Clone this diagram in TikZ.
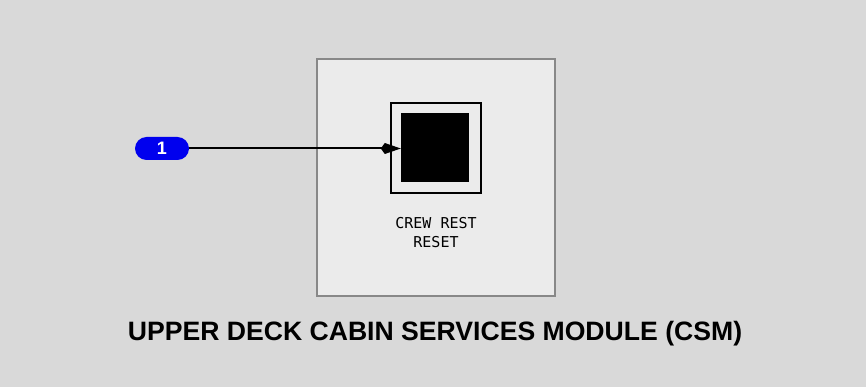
\documentclass[tikz,border=0pt]{standalone}
\usepackage{fontspec}
\setmainfont{Liberation Sans}
\newfontfamily\monofont{DejaVu Sans Mono}
\usetikzlibrary{arrows.meta}
\definecolor{bggray}{HTML}{D9D9D9}
\definecolor{panelgray}{HTML}{EBEBEB}
\definecolor{edgegray}{HTML}{888888}
\definecolor{pillblue}{HTML}{0000EE}
\tikzset{
  panel/.style={draw=edgegray, line width=2pt, fill=panelgray},
  btnframe/.style={draw=black, line width=2.2pt},
  btnfill/.style={fill=black},
  pill/.style={fill=pillblue, rounded corners=11.5pt, text=white, font=\bfseries\fontsize{18}{18}\selectfont, inner sep=0pt},
  lbl/.style={font=\monofont\fontsize{15}{19}\selectfont, align=center, inner sep=0pt},
  ttl/.style={font=\bfseries\fontsize{26.6}{30}\selectfont, inner sep=0pt},
  conn/.style={line width=2pt, -{Kite[length=20pt,width=11pt,inset=4pt]}}
}
\begin{document}
\begin{tikzpicture}[x=1pt,y=-1pt]
\useasboundingbox (0,0) rectangle (866,387);
\fill[bggray] (0,0) rectangle (866,387);
\draw[panel] (317,59) rectangle (555,296);
\draw[btnframe] (391,103) rectangle (481,193);
\node[btnfill, minimum width=68pt, minimum height=69pt, inner sep=0pt] (btn) at (435,147.5) {};
\node[pill, minimum width=54pt, minimum height=23pt] (p1) at (162,148.5) {1};
\node[lbl] (lab) at (436,232.5) {CREW REST\\RESET};
\node[ttl] (title) at (435,334) {UPPER DECK CABIN SERVICES MODULE (CSM)};
\draw[conn] (p1.east) -- (btn.west |- p1.east);
\end{tikzpicture}
\end{document}
